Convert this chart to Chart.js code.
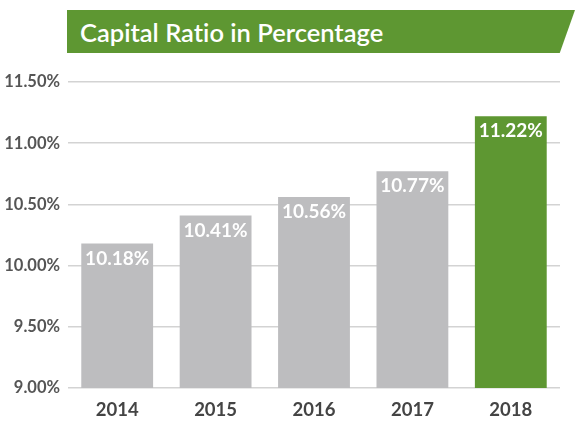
<!DOCTYPE html>
<html>
<head>
<meta charset="utf-8">
<script src="https://cdn.jsdelivr.net/npm/chart.js@4"></script>
<style>
  html, body { margin: 0; padding: 0; background: #fff; }
  #wrap { position: relative; width: 575px; height: 425px; }
  #banner {
    position: absolute; left: 67px; top: 10px; width: 508px; height: 43px;
    background: #5e9732;
    clip-path: polygon(0 0, 100% 0, 97% 100%, 0 100%);
    color: #fff; font: 600 25.5px Lato, "Open Sans", sans-serif;
    font-variant-ligatures: none;
    line-height: 45px; padding-left: 13px; box-sizing: border-box;
  }
  canvas { position: absolute; left: 0; top: 0; }
</style>
</head>
<body>
<div id="wrap">
  <canvas id="capChart" width="575" height="425"></canvas>
  <div id="banner">Capital Ratio in Percentage</div>
</div>
<script>
const years = ['2014', '2015', '2016', '2017', '2018'];
const capitalRatio = [10.18, 10.41, 10.56, 10.77, 11.22];
const barColors = ['#bdbdbf', '#bdbdbf', '#bdbdbf', '#bdbdbf', '#5e9732'];
const yTicks = [9.0, 9.5, 10.0, 10.5, 11.0, 11.5];

// labels inside the top of each bar
const barLabels = {
  id: 'barLabels',
  afterDatasetsDraw(chart) {
    const ctx = chart.ctx;
    const meta = chart.getDatasetMeta(0);
    ctx.save();
    ctx.fillStyle = '#fff';
    ctx.font = 'bold 19px Lato, sans-serif';
    ctx.textAlign = 'center';
    ctx.textBaseline = 'middle';
    meta.data.forEach((bar, i) => {
      ctx.fillText(capitalRatio[i].toFixed(2) + '%', bar.x, bar.y + 15);
    });
    ctx.restore();
  }
};

const capChart = new Chart(document.getElementById('capChart'), {
  type: 'bar',
  data: {
    labels: years,
    datasets: [{
      data: capitalRatio,
      backgroundColor: barColors,
      categoryPercentage: 1.0,
      barPercentage: 0.73
    }]
  },
  options: {
    responsive: false,
    animation: false,
    layout: { padding: { top: 82, right: 15, bottom: 0, left: 0 } },
    plugins: { legend: { display: false }, tooltip: { enabled: false } },
    scales: {
      x: {
        grid: { display: false, drawTicks: false },
        border: { display: false },
        ticks: { color: '#444', font: { family: 'Lato', size: 18.5, weight: 'bold' }, padding: 11 },
        afterFit: (scale) => { scale.height = 37; }
      },
      y: {
        min: 9, max: 11.5,
        afterBuildTicks: (scale) => { scale.ticks = yTicks.map(v => ({ value: v })); },
        grid: { color: '#d3d3d3', drawTicks: false, lineWidth: 1.5 },
        border: { display: false },
        ticks: {
          color: '#555', font: { family: 'Lato', size: 16.5, weight: 'bold' }, padding: 8,
          callback: (v) => v.toFixed(2) + '%'
        },
        afterFit: (scale) => { scale.width = 68; }
      }
    }
  },
  plugins: [barLabels]
});
</script>
</body>
</html>
